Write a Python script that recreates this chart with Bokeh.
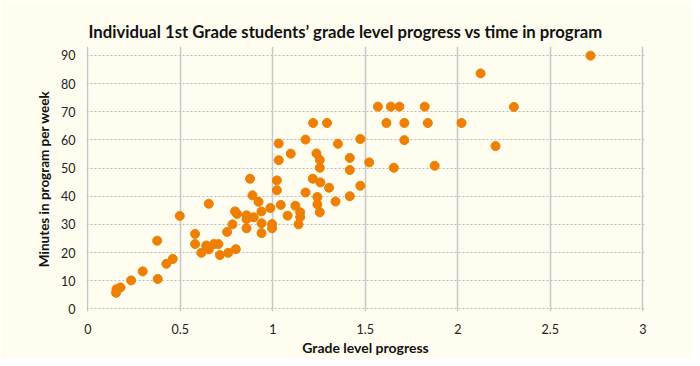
from bokeh.plotting import figure
from bokeh.models import ColumnDataSource, FixedTicker, Range1d
from bokeh.embed import file_html
from bokeh.resources import INLINE

progress = [0.153, 0.155, 0.177, 0.234, 0.297, 0.375, 0.378, 0.425, 0.459, 0.497,
            0.580, 0.580, 0.614, 0.640, 0.654, 0.654, 0.681, 0.706, 0.714, 0.753,
            0.759, 0.782, 0.796, 0.807, 0.800, 0.858, 0.858, 0.858, 0.877, 0.890,
            0.897, 0.923, 0.939, 0.939, 0.939, 0.987, 0.996, 0.996, 1.022, 1.022,
            1.032, 1.032, 1.043, 1.080, 1.097, 1.122, 1.148, 1.148, 1.139,
            1.177, 1.177, 1.218, 1.293, 1.216, 1.236, 1.254, 1.254, 1.257, 1.241,
            1.241, 1.254, 1.304, 1.339, 1.352, 1.416, 1.416, 1.416, 1.473, 1.473,
            1.521, 1.568, 1.614, 1.638, 1.684, 1.654, 1.711, 1.711, 1.821, 1.838,
            1.875, 2.020, 2.123, 2.204, 2.303, 2.717]
minutes = [5.7, 7.0, 7.6, 10.1, 13.3, 24.2, 10.6, 16.0, 17.7, 33.0,
           26.6, 23.0, 19.9, 22.5, 21.1, 37.3, 23.0, 23.0, 19.1, 27.3,
           19.9, 30.0, 34.6, 33.7, 21.2, 33.2, 31.9, 28.6, 46.2, 40.3,
           32.5, 38.0, 34.6, 30.4, 26.9, 35.8, 30.1, 28.6, 45.6, 42.1,
           58.7, 52.8, 36.9, 33.1, 55.1, 36.6, 34.3, 32.6, 30.0,
           41.3, 60.1, 66.0, 66.0, 46.2, 55.2, 52.9, 50.1, 44.9, 39.7,
           37.1, 34.3, 43.0, 38.1, 58.6, 53.6, 49.3, 40.0, 60.3, 43.7,
           52.0, 71.8, 66.0, 71.8, 71.8, 50.1, 66.0, 59.9, 71.8, 66.0,
           50.8, 66.0, 83.6, 57.8, 71.7, 89.9]

x_ticks = [0, 0.5, 1, 1.5, 2, 2.5, 3]
x_tick_labels = {0: "0", 0.5: "0.5", 1: "1", 1.5: "1.5", 2: "2", 2.5: "2.5", 3: "3"}
y_ticks = [0, 10, 20, 30, 40, 50, 60, 70, 80, 90]

FONT = "Lato"
BG = "#FFFDF0"

source = ColumnDataSource(data=dict(x=progress, y=minutes))

p = figure(width=692, height=358, output_backend="svg", toolbar_location=None,
           x_range=Range1d(-0.007, 3.009), y_range=Range1d(-0.94, 93.15),
           title="Individual 1st Grade students\u2019 grade level progress vs time in program",
           min_border_left=86, min_border_right=48, min_border_top=46, min_border_bottom=43)

p.background_fill_color = BG
p.border_fill_color = BG
p.outline_line_color = None

p.title.align = "left"
p.title.offset = 2
p.title.text_font = FONT
p.title.text_font_style = "bold"
p.title.text_font_size = "16.7px"
p.title.text_color = "#111111"

p.scatter("x", "y", source=source, size=9, fill_color="#EE7F00", line_color="#EE7F00")

p.xaxis.ticker = FixedTicker(ticks=x_ticks)
p.xaxis.major_label_overrides = x_tick_labels
p.yaxis.ticker = FixedTicker(ticks=y_ticks)

for ax in (p.xaxis[0], p.yaxis[0]):
    ax.axis_line_color = None
    ax.major_tick_line_color = None
    ax.minor_tick_line_color = None
    ax.major_label_text_font = FONT
    ax.major_label_text_font_size = "12.5px"
    ax.major_label_text_color = "#222222"
    ax.axis_label_text_font = FONT
    ax.axis_label_text_font_style = "bold"
    ax.axis_label_text_color = "#111111"

p.xaxis.axis_label = "Grade level progress"
p.yaxis.axis_label = "Minutes in program per week"
p.xaxis.axis_label_text_font_size = "14px"
p.yaxis.axis_label_text_font_size = "13.5px"
p.xaxis.major_label_standoff = 6
p.yaxis.major_label_standoff = 5
p.xaxis.axis_label_standoff = 2
p.yaxis.axis_label_standoff = 6

p.xgrid.grid_line_color = "#C8C8C8"
p.xgrid.grid_line_width = 1.5
p.ygrid.grid_line_color = "#BBBBBB"
p.ygrid.grid_line_width = 1
p.ygrid.grid_line_dash = "2 2"

open("out.html", "w").write(file_html(p, INLINE))
